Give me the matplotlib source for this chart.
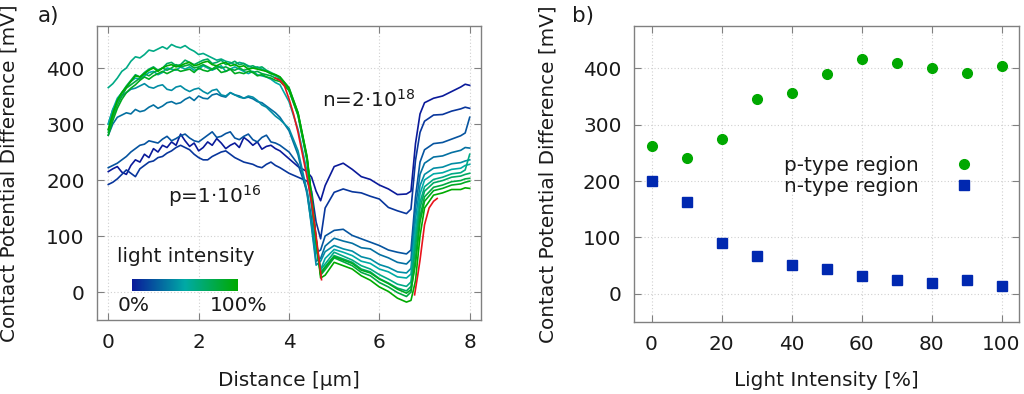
import numpy as np
import matplotlib
matplotlib.use('Agg')
import matplotlib.pyplot as plt
from matplotlib.colors import LinearSegmentedColormap
from matplotlib.lines import Line2D

# ---- panel a): CPD profiles across the junction, one per light intensity
distance = [0.0, 0.1, 0.2, 0.3, 0.4, 0.5, 0.6, 0.7, 0.8, 0.9, 1.0, 1.1, 1.2, 1.3,
            1.4, 1.5, 1.6, 1.7, 1.8, 1.9, 2.0, 2.1, 2.2, 2.3, 2.4, 2.5, 2.6, 2.7,
            2.8, 2.9, 3.0, 3.1, 3.2, 3.3, 3.4, 3.5, 3.6, 3.7, 3.8,
            4.0, 4.2, 4.4, 4.5, 4.6, 4.7, 4.8, 5.0, 5.2, 5.4, 5.6, 5.8, 6.0, 6.2,
            6.4, 6.6, 6.7, 6.8, 6.9, 7.0, 7.2, 7.4, 7.6, 7.8, 7.9, 8.0]

cpd_00 = [215, 220, 224, 214, 210, 226, 236, 232, 246, 240, 256, 250, 262, 258, 268, 262, 282, 270, 260, 266,
          252, 258, 268, 262, 274, 266, 256, 262, 266, 258, 276, 270, 262, 268, 255, 260, 262, 256, 252,
          238, 224, 215, 205, 180, 163, 190, 224, 230, 219, 206, 201, 191, 184, 174, 175, 180,
          265, 318, 338, 346, 350, 358, 366, 371, 369]
cpd_10 = [192, 196, 202, 210, 218, 212, 206, 220, 226, 232, 234, 240, 242, 248, 252, 258, 262, 258, 254, 246,
          240, 236, 236, 242, 246, 250, 252, 246, 240, 236, 232, 230, 228, 224, 222, 228, 232, 226, 222,
          212, 205, 198, 180, 125, 95, 150, 178, 184, 179, 177, 171, 166, 151, 145, 140, 148,
          235, 285, 305, 316, 317, 323, 327, 330, 328]
cpd_20 = [222, 226, 230, 236, 242, 250, 256, 262, 264, 270, 268, 266, 273, 278, 270, 274, 279, 282, 275, 270,
          268, 274, 280, 286, 276, 278, 283, 286, 275, 272, 278, 282, 272, 268, 276, 280, 268, 266, 262,
          250, 228, 180, 130, 70, 75, 100, 110, 112, 101, 95, 89, 83, 75, 71, 68, 75,
          170, 232, 254, 265, 267, 273, 279, 284, 312]
cpd_30 = [280, 300, 312, 316, 320, 318, 326, 322, 324, 330, 334, 328, 332, 338, 340, 336, 338, 344, 348, 342,
          350, 346, 345, 352, 354, 350, 348, 356, 352, 350, 346, 348, 345, 340, 338, 332, 326, 320, 312,
          288, 245, 175, 120, 55, 60, 82, 96, 91, 87, 79, 77, 67, 61, 53, 50, 58,
          150, 210, 230, 241, 243, 249, 253, 258, 257]
cpd_40 = [300, 326, 340, 350, 356, 362, 364, 368, 372, 366, 364, 368, 370, 362, 360, 366, 368, 362, 358, 362,
          364, 358, 354, 360, 362, 352, 350, 356, 352, 348, 346, 350, 348, 342, 334, 330, 322, 314, 308,
          292, 252, 180, 115, 48, 55, 72, 83, 77, 73, 63, 59, 49, 44, 36, 34, 42,
          130, 190, 210, 221, 223, 229, 231, 234, 236]
cpd_50 = [300, 326, 346, 356, 366, 376, 382, 380, 386, 392, 394, 388, 392, 400, 398, 396, 402, 398, 402, 396,
          398, 404, 400, 396, 400, 404, 394, 398, 402, 398, 394, 390, 394, 388, 386, 384, 380, 374, 370,
          340, 290, 215, 150, 75, 40, 60, 76, 71, 65, 55, 51, 41, 36, 27, 25, 32,
          110, 175, 200, 211, 213, 219, 221, 226, 228]
cpd_60 = [365, 372, 382, 394, 400, 412, 420, 418, 424, 432, 430, 434, 438, 434, 442, 438, 436, 440, 434, 430,
          424, 426, 422, 418, 414, 416, 412, 410, 406, 410, 408, 404, 400, 402, 398, 394, 390, 386, 382,
          360, 315, 235, 165, 90, 40, 50, 71, 64, 57, 47, 41, 31, 23, 14, 10, 18,
          95, 160, 188, 201, 205, 211, 213, 218, 246]
cpd_70 = [290, 320, 342, 356, 368, 378, 388, 384, 392, 398, 402, 396, 400, 408, 410, 404, 406, 414, 410, 406,
          410, 414, 416, 408, 410, 414, 406, 408, 412, 406, 408, 402, 404, 400, 402, 396, 392, 388, 384,
          365, 320, 240, 170, 95, 35, 45, 65, 59, 53, 41, 36, 24, 16, 7, 2, 10,
          80, 150, 180, 195, 199, 205, 207, 210, 212]
cpd_80 = [285, 312, 334, 350, 364, 370, 376, 382, 390, 386, 392, 396, 400, 396, 400, 406, 402, 404, 406, 400,
          402, 406, 402, 398, 404, 400, 402, 398, 396, 400, 396, 398, 392, 394, 390, 388, 386, 382, 380,
          362, 318, 238, 168, 92, 30, 40, 61, 54, 47, 35, 29, 17, 9, -1, -8, 0,
          60, 135, 170, 187, 191, 197, 199, 202, 203]
cpd_90 = [280, 306, 328, 344, 356, 364, 370, 378, 384, 380, 386, 390, 394, 390, 394, 398, 394, 396, 398, 392,
          400, 396, 394, 398, 400, 392, 394, 398, 390, 392, 390, 394, 392, 386, 388, 384, 382, 378, 376,
          360, 316, 236, 165, 90, 32, 44, 63, 57, 51, 39, 34, 23, 15, 5, -2, 4,
          50, 125, 162, 181, 185, 191, 193, 196, 198]
cpd_100 = [290, 318, 342, 356, 366, 376, 386, 384, 390, 396, 400, 394, 400, 404, 406, 402, 404, 408, 410, 404,
           406, 410, 412, 406, 404, 408, 410, 404, 406, 402, 404, 398, 400, 398, 396, 394, 390, 388, 384,
           364, 320, 242, 170, 95, 25, 30, 53, 47, 41, 29, 21, 9, 1, -11, -18, -15,
           20, 100, 150, 173, 177, 183, 183, 186, 185]
profiles = [cpd_00, cpd_10, cpd_20, cpd_30, cpd_40, cpd_50,
            cpd_60, cpd_70, cpd_80, cpd_90, cpd_100]

# red traces along the junction edges
red_left_x = [3.69, 3.8, 3.9, 4.0, 4.1, 4.2, 4.3, 4.4, 4.5, 4.6, 4.72]
red_left_y = [382, 378, 368, 345, 318, 285, 245, 205, 160, 100, 22]
red_right_x = [6.78, 6.85, 6.9, 7.0, 7.1, 7.2, 7.28]
red_right_y = [-5, 30, 57, 120, 150, 162, 167]

# ---- panel b): region averages vs light intensity
intensity = [0, 10, 20, 30, 40, 50, 60, 70, 80, 90, 100]
p_type = [262, 241, 274, 346, 356, 390, 417, 409, 400, 392, 404]
n_type = [200, 163, 90, 67, 51, 44, 31, 25, 20, 24, 13]

FS = 14.4
TXT = '#1a1a1a'
cmap = LinearSegmentedColormap.from_list('light', ['#0a1a9a', '#00aaa6', '#00aa00'])


def style(ax):
    for s in ax.spines.values():
        s.set_color('#808080')
        s.set_linewidth(1.0)
    ax.tick_params(direction='in', length=5, color='#808080', top=True, right=True,
                   labelsize=FS, labelcolor=TXT, pad=9)
    ax.grid(True, color='#d0d0d0', linestyle=(0, (1, 2)), linewidth=0.8)
    ax.set_axisbelow(True)


fig = plt.figure(figsize=(10.24, 3.94), dpi=100)
ax1 = fig.add_axes([97 / 1024, 1 - 320 / 394, 384 / 1024, 294 / 394])
ax2 = fig.add_axes([634 / 1024, 1 - 322 / 394, 385 / 1024, 296 / 394])

# panel a
for i, prof in enumerate(profiles):
    ax1.plot(distance, prof, color=cmap(i / 10), lw=1.2)
ax1.plot(red_left_x, red_left_y, color='#e8141c', lw=1.2)
ax1.plot(red_right_x, red_right_y, color='#e8141c', lw=1.2)

grad = np.linspace(0, 1, 256)[None, :]
ax1.imshow(grad, extent=[0.53, 2.87, 2, 23], aspect='auto', cmap=cmap, zorder=3)
ax1.text(0.2, 54, 'light intensity', fontsize=FS, color=TXT, va='baseline')
ax1.text(0.2, -34, '0%', fontsize=FS, color=TXT, va='baseline')
ax1.text(2.25, -34, '100%', fontsize=FS, color=TXT, va='baseline')
ax1.text(1.33, 159, r'p=1·10$^{16}$', fontsize=FS, color=TXT, va='baseline')
ax1.text(4.73, 330, r'n=2·10$^{18}$', fontsize=FS, color=TXT, va='baseline')

ax1.set_xlim(-0.25, 8.25)
ax1.set_ylim(-50, 475)
ax1.set_xticks([0, 2, 4, 6, 8])
ax1.set_yticks([0, 100, 200, 300, 400])
style(ax1)
ax1.set_xlabel('Distance [µm]', fontsize=FS, color=TXT)
ax1.set_ylabel('Contact Potential Difference [mV]', fontsize=FS, color=TXT)
ax1.xaxis.set_label_coords(0.5, -0.172)
ax1.yaxis.set_label_coords(-0.205, 0.5)

# panel b
ax2.plot(intensity, p_type, 'o', color='#00a800', ms=7, mec='#00a800')
ax2.plot(intensity, n_type, 's', color='#0028b0', ms=7, mec='#0028b0')
handles = [Line2D([], [], ls='none', marker='o', color='#00a800', ms=7),
           Line2D([], [], ls='none', marker='s', color='#0028b0', ms=7)]
ax2.legend(handles, ['p-type region', 'n-type region'], loc='center',
           bbox_to_anchor=(0.649, 0.494), frameon=False, markerfirst=False,
           fontsize=FS, labelspacing=0.1, handletextpad=1.25, labelcolor=TXT)
ax2.set_xlim(-5, 105)
ax2.set_ylim(-50, 475)
ax2.set_xticks([0, 20, 40, 60, 80, 100])
ax2.set_yticks([0, 100, 200, 300, 400])
style(ax2)
ax2.set_xlabel('Light Intensity [%]', fontsize=FS, color=TXT)
ax2.set_ylabel('Contact Potential Difference [mV]', fontsize=FS, color=TXT)
ax2.xaxis.set_label_coords(0.5, -0.165)
ax2.yaxis.set_label_coords(-0.198, 0.5)

fig.text(38 / 1024, 1 - 22 / 394, 'a)', fontsize=FS + 1, color=TXT, va='baseline')
fig.text(572 / 1024, 1 - 22 / 394, 'b)', fontsize=FS + 1, color=TXT, va='baseline')

fig.savefig('out.png', dpi=100)
